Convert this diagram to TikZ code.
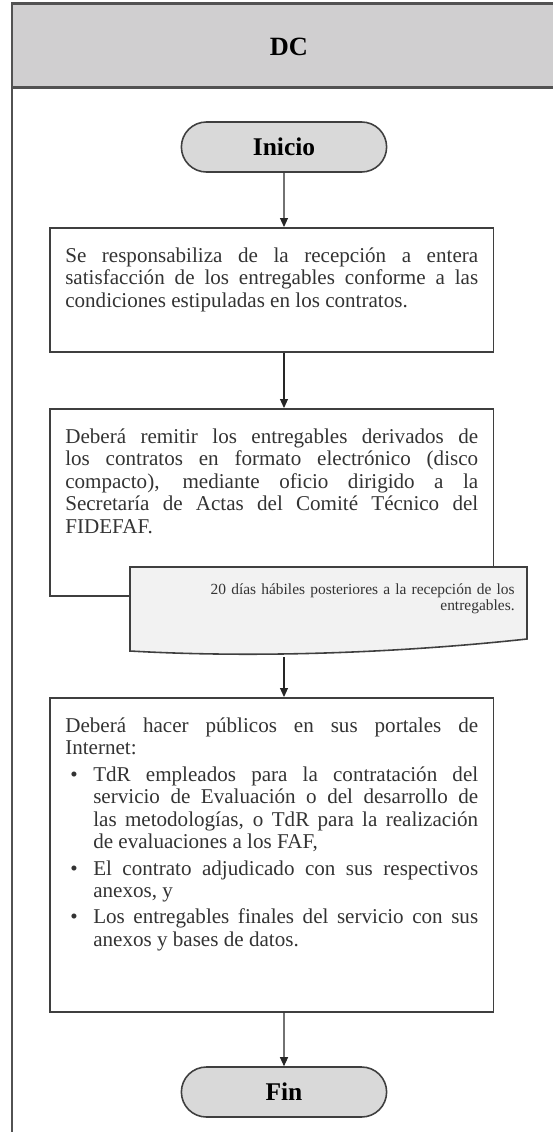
\documentclass[tikz,border=0pt]{standalone}
\usepackage{fontspec}
\setmainfont{Liberation Serif}
\usepackage{tikz}
\usetikzlibrary{arrows.meta,shapes.misc}

\definecolor{griscarril}{HTML}{D0CFD0}
\definecolor{gristerminal}{HTML}{D9D9D9}
\definecolor{grisnota}{HTML}{F2F2F2}
\definecolor{borde}{HTML}{3F3F3F}

\newcommand{\punto}{\par\hangindent=0.56cm\hangafter=1\noindent\makebox[0.56cm][l]{\hspace{0.1cm}\textbullet}}

\begin{document}
\begin{tikzpicture}[x=0.02cm,y=-0.02cm,
    carril/.style={draw=borde!90,line width=1.3pt},
    terminal/.style={rounded rectangle,draw=borde,line width=0.9pt,fill=gristerminal,
        minimum width=4.34cm,minimum height=1.0cm,font=\fontsize{14.5}{16}\selectfont\bfseries},
    caja/.style={draw=borde,line width=0.9pt,anchor=north west,inner xsep=0.31cm,inner ysep=0.4cm,
        font=\fontsize{12}{12.8}\selectfont,text=black!80},
    nota/.style={anchor=north east,inner xsep=0.24cm,inner ysep=0.32cm,text width=7.46cm,align=right,
        font=\fontsize{8.8}{9.6}\selectfont,text=black!80},
    flecha/.style={draw=black!85,line width=0.6pt,-{Triangle[width=0.16cm,length=0.18cm]}}]
    \useasboundingbox (0,0) rectangle (553,1132);
    \clip (0,0) rectangle (553,1132);

    % carril
    \draw[carril,fill=griscarril] (12,3.5) rectangle (560,87.5);
    \draw[carril] (12,87.5) -- (12,1140);
    \node[font=\fontsize{15}{17}\selectfont\bfseries] (dc) at (289,47) {DC};

    % actividades
    \node[terminal] (inicio) at (284,147) {Inicio};

    \node[caja] (recepcion) at (49,227) {\parbox[t][1.68cm][t]{8.26cm}{Se responsabiliza de la recepción a entera\linebreak satisfacción de los entregables conforme a las\linebreak condiciones estipuladas en los contratos.}};

    \node[caja] (remitir) at (49,408) {\parbox[t][2.94cm][t]{8.26cm}{Deberá remitir los entregables derivados de\linebreak los contratos en formato electrónico (disco\linebreak compacto), mediante oficio dirigido a la\linebreak Secretaría de Actas del Comité Técnico del\linebreak FIDEFAF.}};

    % documento
    \coordinate (plazo-no) at (130,567);
    \coordinate (plazo-se) at (527,639);
    \filldraw[draw=borde,line width=0.9pt,fill=grisnota] (plazo-no) -| (plazo-se)
        .. controls +(-110,12) and +(140,8) .. (130,651) -- cycle;
    \node[nota] (plazo) at (527,567) {20 días hábiles posteriores a la recepción de los\\ entregables.};
    \coordinate (plazo-pie) at (284,657);

    \node[caja] (publicacion) at (49,697) {\parbox[t][5.48cm][t]{8.26cm}{\setlength{\parskip}{2.2pt}Deberá hacer públicos en sus portales de\linebreak Internet:
        \punto TdR empleados para la contratación del\linebreak servicio de Evaluación o del desarrollo de\linebreak las metodologías, o TdR para la realización\linebreak de evaluaciones a los FAF,
        \punto El contrato adjudicado con sus respectivos\linebreak anexos, y
        \punto Los entregables finales del servicio con sus\linebreak anexos y bases de datos.}};

    \node[terminal] (fin) at (284,1092) {Fin};

    % flechas
    \draw[flecha] (inicio) -- (inicio |- recepcion.north);
    \draw[flecha] (inicio |- recepcion.south) -- (inicio |- remitir.north);
    \draw[flecha] (plazo-pie) -- (plazo-pie |- publicacion.north);
    \draw[flecha] (fin |- publicacion.south) -- (fin);
\end{tikzpicture}
\end{document}
